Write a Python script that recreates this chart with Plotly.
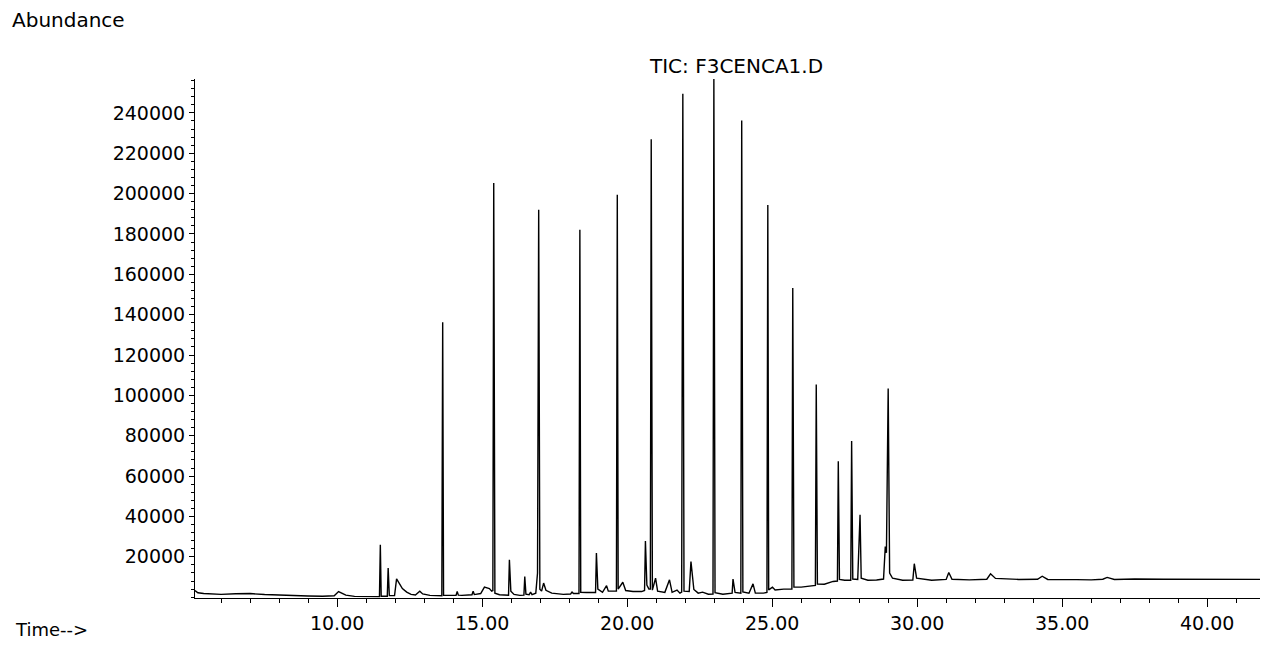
import plotly.graph_objects as go

# TIC chromatogram
# baseline levels (retention time in min, abundance)
baseline_rt = [
    5.10, 5.20, 5.40, 6.00, 6.50, 7.00, 7.50, 8.00, 8.50, 9.00, 9.50, 9.90,
    10.15, 10.30, 10.60, 11.00, 11.46, 11.52, 11.73, 11.80, 11.98, 12.15,
    12.25, 12.40, 12.55, 12.70, 12.95, 13.20, 13.61, 13.67, 13.90, 14.10,
    14.18, 14.30, 14.65, 14.73, 14.95, 15.25, 15.33, 15.37, 15.44, 15.60,
    15.91, 15.99, 16.10, 16.30, 16.44, 16.51, 16.62, 16.72, 16.85, 16.99,
    17.05, 17.20, 17.40, 17.80, 18.05, 18.15, 18.34, 18.40, 18.60, 18.91,
    18.99, 19.15, 19.35, 19.58, 19.63, 19.69, 19.95, 20.20, 20.50, 20.60,
    20.68, 20.75, 20.80, 20.87, 21.05, 21.30, 21.55, 21.82, 21.88, 21.96,
    22.14, 22.30, 22.45, 22.80, 22.96, 23.03, 23.30, 23.55, 23.62, 23.72,
    23.92, 23.99, 24.20, 24.42, 24.70, 24.82, 24.88, 25.10, 25.40, 25.68,
    25.75, 26.00, 26.30, 26.49, 26.56, 26.80, 27.10, 27.25, 27.32, 27.50,
    27.71, 27.78, 27.95, 28.07, 28.30, 28.60, 28.84, 29.05, 29.15, 29.50,
    29.85, 29.98, 30.50, 31.00, 31.20, 31.80, 32.40, 32.70, 33.50, 34.15,
    34.50, 35.50, 36.00, 36.40, 36.80, 37.50, 38.50, 39.50, 40.50, 41.50,
    42.10,
]
baseline_abund = [
    3300, 2200, 1800, 1400, 1700, 1800, 1300, 1000, 800, 600, 500, 700,
    2000, 1000, 400, 300, 300, 500, 500, 800, 800, 6500,
    4300, 2500, 1400, 1100, 1600, 900, 700, 900, 700, 900,
    1000, 900, 1200, 1300, 1800, 4300, 3000, 3300, 2000, 1200,
    1000, 3000, 1400, 900, 1000, 1500, 1200, 1300, 2000, 4000,
    3000, 3400, 2000, 1400, 1600, 1800, 1800, 2400, 2300, 2300,
    4000, 2400, 3000, 2800, 3000, 4000, 3300, 2800, 2800, 3300,
    6000, 4000, 4000, 3500, 3000, 2400, 2400, 2000, 2500, 3000,
    2800, 3800, 2000, 1500, 1600, 2200, 1500, 1800, 2000, 2400,
    2000, 2600, 2000, 2000, 2000, 2400, 3600, 3600, 4000, 4000,
    5000, 5000, 5400, 5800, 6500, 6400, 7800, 8000, 8800, 8400,
    8400, 9000, 8800, 9400, 8400, 8500, 9000, 12000, 9400, 8400,
    8500, 9400, 8400, 8800, 8900, 8600, 8900, 9300, 8800, 8900,
    8800, 8700, 8600, 8900, 8800, 9000, 8900, 8800, 8900, 8800,
    8800,
]

# peak apexes (retention time in min, abundance)
peak_rt = [
    10.05, 11.49, 11.76, 12.05, 12.85, 13.64, 14.14, 14.69, 15.08, 15.40,
    15.94, 16.47, 16.67, 16.91, 16.95, 17.12, 18.10, 18.37, 18.94, 19.29,
    19.66, 19.85, 20.63, 20.83, 20.98, 21.46, 21.72, 21.895, 21.90, 21.92,
    22.20, 22.60, 22.99, 23.65, 23.95, 24.34, 24.85, 25.01, 25.71, 26.52,
    27.28, 27.74, 28.03, 28.90, 28.94, 29.00, 29.90, 31.09, 32.53, 34.31,
    36.55,
]
peak_abund = [
    2800, 26000, 14400, 9100, 3000, 136300, 2800, 3000, 5000, 205200,
    18500, 10200, 2500, 12000, 192000, 7000, 2500, 182100, 21900, 5700,
    199400, 7400, 27800, 227000, 9400, 8600, 3500, 132000, 116000, 249500,
    17700, 2500, 256800, 9000, 236200, 6600, 194400, 5000, 153200, 105400,
    67400, 77400, 40800, 25100, 22000, 103400, 16600, 12200, 11600, 10400,
    9800,
]

x_tick_vals = [10, 15, 20, 25, 30, 35, 40]
x_tick_text = ["10.00", "15.00", "20.00", "25.00", "30.00", "35.00", "40.00"]
y_tick_vals = [20000, 40000, 60000, 80000, 100000, 120000, 140000,
               160000, 180000, 200000, 220000, 240000]
y_tick_text = [str(v) for v in y_tick_vals]

# merge baseline and apex points into one trace, ordered by time
points = sorted(zip(baseline_rt + peak_rt, baseline_abund + peak_abund))
rt = [p[0] for p in points]
abund = [p[1] for p in points]

FONT = "DejaVu Sans"

# the page puts the figure 8px in from the window corner,
# so plot area edges are given in figure pixels
PLOT_L, PLOT_T, PLOT_R, PLOT_B = 195, 79, 1260, 598   # page pixels


def px(x):
    return (x - PLOT_L) / (PLOT_R - PLOT_L)


def py(y):
    return (PLOT_B - y) / (PLOT_B - PLOT_T)


fig = go.Figure()
fig.add_trace(go.Scatter(
    x=rt, y=abund,
    mode="lines",
    line=dict(color="black", width=1.4),
    hoverinfo="x+y",
))

axis_common = dict(
    showline=True, linecolor="black", linewidth=1,
    showgrid=False, zeroline=False,
    ticks="outside", tickcolor="black", tickwidth=1,
    tickfont=dict(family=FONT, size=19, color="black"),
)

fig.update_xaxes(
    range=[5.1, 41.82],
    tickvals=x_tick_vals, ticktext=x_tick_text,
    ticklen=8,
    minor=dict(dtick=1, tick0=0, ticks="outside", ticklen=4,
               tickcolor="black", showgrid=False),
    **axis_common,
)
fig.update_yaxes(
    range=[-400, 256800],
    tickvals=y_tick_vals, ticktext=y_tick_text,
    ticklen=5,
    minor=dict(dtick=4000, tick0=0, ticks="outside", ticklen=3,
               tickcolor="black", showgrid=False),
    **axis_common,
)

fig.update_layout(
    showlegend=False,
    plot_bgcolor="white",
    paper_bgcolor="white",
    margin=dict(l=PLOT_L - 8, r=0, t=PLOT_T - 8, b=640 - PLOT_B),
    font=dict(family=FONT, color="black"),
    annotations=[
        dict(text="Abundance", xref="paper", yref="paper",
             x=px(10), y=py(20), xanchor="left", yanchor="middle",
             showarrow=False, font=dict(family=FONT, size=20)),
        dict(text="TIC: F3CENCA1.D", xref="paper", yref="paper",
             x=px(736), y=py(66), xanchor="center", yanchor="middle",
             showarrow=False, font=dict(family=FONT, size=20)),
        dict(text="Time-->", xref="paper", yref="paper",
             x=px(13), y=py(629), xanchor="left", yanchor="middle",
             showarrow=False, font=dict(family=FONT, size=18)),
    ],
)

fig.write_html("out.html")
